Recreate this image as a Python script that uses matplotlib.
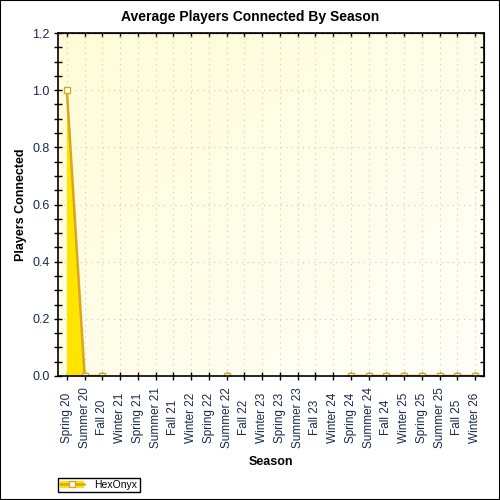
import numpy as np
import matplotlib
matplotlib.use('Agg')
import matplotlib.pyplot as plt
from matplotlib.patches import Rectangle, Patch
from matplotlib.lines import Line2D
from matplotlib.ticker import MultipleLocator

plt.rcParams['font.family'] = ['Liberation Sans', 'DejaVu Sans']

seasons = ['Spring 20', 'Summer 20', 'Fall 20', 'Winter 21', 'Spring 21', 'Summer 21',
           'Fall 21', 'Winter 22', 'Spring 22', 'Summer 22', 'Fall 22', 'Winter 23',
           'Spring 23', 'Summer 23', 'Fall 23', 'Winter 24', 'Spring 24', 'Summer 24',
           'Fall 24', 'Winter 25', 'Spring 25', 'Summer 25', 'Fall 25', 'Winter 26']
nan = np.nan
players = [1.0, 0.0, 0.0, nan, nan, nan, nan, nan, nan, 0.0, nan, nan,
           nan, nan, nan, nan, 0.0, 0.0, 0.0, 0.0, 0.0, 0.0, 0.0, 0.0]
series_name = 'HexOnyx'

line_col = '#DAA520'
fill_col = '#FFE400'
txt_col = '#1a2a4a'

fig = plt.figure(figsize=(5, 5), dpi=100)
fig.patches.append(Rectangle((0, 0), 1, 1, transform=fig.transFigure, fill=False,
                             edgecolor='black', linewidth=1.5))
ax = fig.add_axes([0.116, 0.248, 0.852, 0.686])

# background gradient (yellow top-left -> white bottom-right)
g = np.linspace(0, 1, 200)
gx, gy = np.meshgrid(g, g[::-1])
t = (gx + (1 - gy)) / 2
c0 = np.array([1.0, 0.988, 0.84])
c1 = np.array([1.0, 1.0, 0.975])
img = c0[None, None, :] * (1 - t[..., None]) + c1[None, None, :] * t[..., None]
ax.imshow(img, extent=[0, 1, 0, 1], transform=ax.transAxes, aspect='auto', zorder=0)

x = np.arange(len(seasons))
y = np.array(players)
ax.fill_between(x, 0, y, where=~np.isnan(y), facecolor=fill_col, edgecolor='none', zorder=2)
ax.plot(x, y, color=line_col, linewidth=1.8, marker='s', markersize=4.5,
        markerfacecolor='white', markeredgecolor=line_col, markeredgewidth=1, zorder=3)

ax.set_xlim(-0.5, len(seasons) - 0.5)
ax.set_ylim(0, 1.2)
ax.set_xticks(x)
ax.set_xticklabels(seasons, rotation=90, fontsize=8.5, color=txt_col, va='center')
ax.yaxis.set_major_locator(MultipleLocator(0.2))
ax.yaxis.set_minor_locator(MultipleLocator(0.05))
ax.set_yticks(np.arange(0, 1.21, 0.2))
ax.set_yticklabels(['%.1f' % v for v in np.arange(0, 1.21, 0.2)], fontsize=9, color=txt_col)

# ticks: cross the left/bottom axes, point inward on top/right
ax.tick_params(axis='both', which='both', direction='inout', length=6, width=1)
ax.tick_params(axis='x', pad=27)
ax.tick_params(axis='y', pad=3)
ax2 = ax.secondary_xaxis('top')
ax2.set_xticks(x)
ax2.tick_params(direction='in', length=3, width=1, labeltop=False)
ax3 = ax.secondary_yaxis('right')
ax3.yaxis.set_major_locator(MultipleLocator(0.2))
ax3.yaxis.set_minor_locator(MultipleLocator(0.05))
ax3.tick_params(which='both', direction='in', length=3, width=1, labelright=False)

ax.grid(True, color='#c8c8c8', linestyle=(0, (1, 4)), linewidth=0.8, zorder=1)
for s in ax.spines.values():
    s.set_linewidth(1.2)
    s.set_zorder(4)

fig.text(0.5, 0.966, 'Average Players Connected By Season', fontsize=10,
         fontweight='bold', ha='center', va='center')
ax.set_xlabel('Season', fontsize=9, fontweight='bold', labelpad=6)
ax.set_ylabel('Players Connected', fontsize=9, fontweight='bold', labelpad=4)

h = (Patch(facecolor=fill_col, edgecolor='none'),
     Line2D([], [], color=line_col, linewidth=1.8, marker='s', markersize=4.5,
            markerfacecolor='white', markeredgecolor=line_col))
leg = fig.legend([h], [series_name], loc='lower left', bbox_to_anchor=(0.116, 0.016),
                 fontsize=7.5, fancybox=False, edgecolor='black', framealpha=1,
                 borderpad=0.2, handlelength=2.3, handleheight=0.6, handletextpad=1.0,
                 borderaxespad=0)
leg.get_frame().set_linewidth(1)

fig.savefig('out.png', dpi=100)
